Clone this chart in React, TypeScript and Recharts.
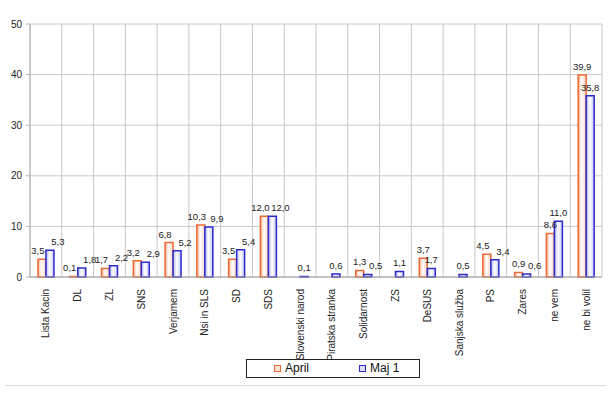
import React from 'react';
import { BarChart, Bar, XAxis, YAxis, CartesianGrid, LabelList } from 'recharts';

const categories = [
  'Lista Kacin', 'DL', 'ZL', 'SNS', 'Verjamem', 'Nsi in SLS', 'SD', 'SDS',
  'Slovenski narod', 'Piratska stranka', 'Solidarnost', 'ZS', 'DeSUS',
  'Sanjska služba', 'PS', 'Zares', 'ne vem', 'ne bi volil',
];
const april = [3.5, 0.1, 1.7, 3.2, 6.8, 10.3, 3.5, 12.0, null, null, 1.3, null, 3.7, null, 4.5, 0.9, 8.6, 39.9];
const maj1 = [5.3, 1.8, 2.2, 2.9, 5.2, 9.9, 5.4, 12.0, 0.1, 0.6, 0.5, 1.1, 1.7, 0.5, 3.4, 0.6, 11.0, 35.8];
const yTicks = [0, 10, 20, 30, 40, 50];
const seriesNames = ['April', 'Maj 1'];

const data = categories.map((name, i) => ({ name, april: april[i], maj1: maj1[i] }));

const FONT = '"Liberation Sans", Arial, sans-serif';

const fmt = (v: any) => (v == null ? '' : Number(v).toFixed(1).replace('.', ','));

const XTick = (props: any) => {
  const { x, y, payload } = props;
  return (
    <text
      x={x}
      y={y}
      transform={`rotate(-90, ${x}, ${y})`}
      textAnchor="end"
      dy="0.35em"
      fontSize={10}
      fontFamily={FONT}
      fill="#222"
    >
      {payload.value}
    </text>
  );
};

const isClose = (i: number) => {
  const a = april[i];
  const b = maj1[i];
  return a != null && b != null && Math.abs(a - b) < 2;
};

const makeLabel = (dxClose: number) => (props: any) => {
  const { x, y, width, value, index } = props;
  if (value == null) return null;
  const dx = isClose(index) ? dxClose : 0;
  return (
    <text
      x={Number(x) + Number(width) / 2 + dx}
      y={Number(y) - 5}
      textAnchor="middle"
      fontSize={9.5}
      fontFamily={FONT}
      fill="#222"
    >
      {fmt(value)}
    </text>
  );
};

const vGen = ({ offset }: any) => {
  const n = categories.length;
  const out: number[] = [];
  for (let i = 0; i <= n; i++) out.push(offset.left + (offset.width * i) / n);
  return out;
};

export default function App() {
  return (
    <div style={{ position: 'absolute', left: 0, top: 0, width: 610, height: 400, background: '#fff' }}>
      <BarChart
        width={610}
        height={400}
        data={data}
        margin={{ top: 24, right: 8, bottom: 0, left: 0 }}
        barCategoryGap="25%"
        barGap={0}
      >
        <defs>
          <linearGradient id="gOr" x1="0" y1="0" x2="1" y2="0">
            <stop offset="0%" stopColor="#f6ad8e" />
            <stop offset="45%" stopColor="#ffffff" />
            <stop offset="100%" stopColor="#fbd3c2" />
          </linearGradient>
          <linearGradient id="gBl" x1="0" y1="0" x2="1" y2="0">
            <stop offset="0%" stopColor="#aeaef4" />
            <stop offset="45%" stopColor="#ffffff" />
            <stop offset="100%" stopColor="#c9c9fa" />
          </linearGradient>
        </defs>
        <CartesianGrid stroke="#c8c8c8" verticalCoordinatesGenerator={vGen} />
        <XAxis
          dataKey="name"
          interval={0}
          tick={<XTick />}
          tickLine={false}
          tickMargin={6}
          height={123}
          axisLine={{ stroke: '#a0a0a0' }}
        />
        <YAxis
          domain={[0, 50]}
          ticks={yTicks}
          width={30}
          tickSize={4}
          tickMargin={4}
          tick={{ fontSize: 10, fontFamily: FONT, fill: '#222' }}
          axisLine={{ stroke: '#b0b0b0' }}
          tickLine={{ stroke: '#b0b0b0' }}
        />
        <Bar dataKey="april" name={seriesNames[0]} fill="url(#gOr)" stroke="#ee6a35" strokeWidth={1.5} isAnimationActive={false}>
          <LabelList dataKey="april" content={makeLabel(-4)} />
        </Bar>
        <Bar dataKey="maj1" name={seriesNames[1]} fill="url(#gBl)" stroke="#2b2bcc" strokeWidth={1.5} isAnimationActive={false}>
          <LabelList dataKey="maj1" content={makeLabel(8)} />
        </Bar>
      </BarChart>
      <div
        style={{
          position: 'absolute', left: 246, top: 359, width: 172, height: 17,
          border: '1px solid #222', fontFamily: FONT, fontSize: 12, color: '#111',
        }}
      >
        <div style={{ position: 'absolute', left: 27, top: 5, width: 5, height: 5, border: '1px solid #ee6a35', background: '#fde0d2' }} />
        <div style={{ position: 'absolute', left: 38, top: 1 }}>{seriesNames[0]}</div>
        <div style={{ position: 'absolute', left: 112, top: 5, width: 5, height: 5, border: '1px solid #2b2bcc', background: '#dcdcfb' }} />
        <div style={{ position: 'absolute', left: 123, top: 1 }}>{seriesNames[1]}</div>
      </div>
      <div style={{ position: 'absolute', left: 5, top: 385, width: 601, height: 1, background: '#dcdcdc' }} />
    </div>
  );
}
